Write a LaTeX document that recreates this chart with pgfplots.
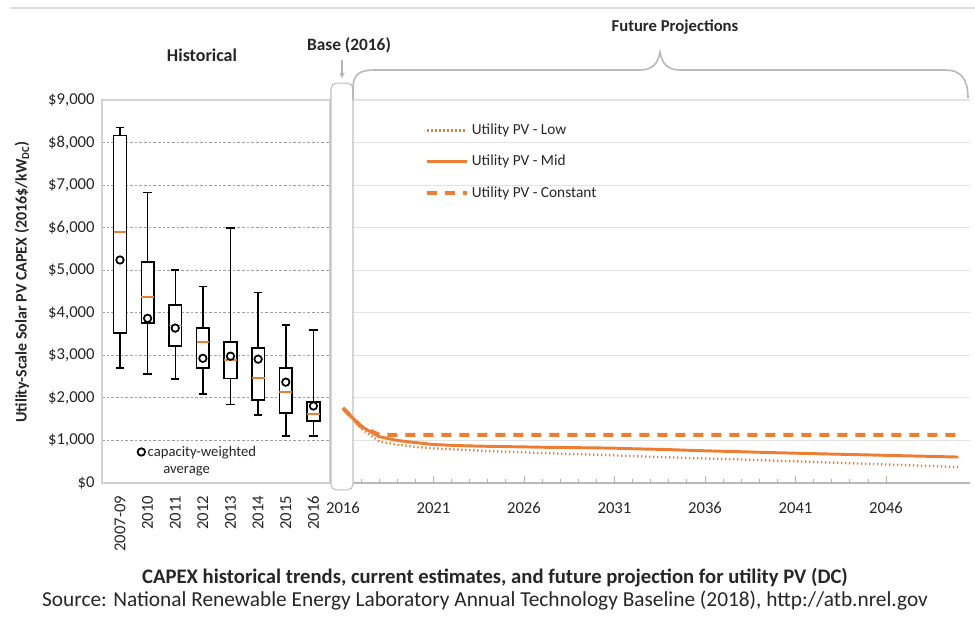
\documentclass[border=0pt]{standalone}
\usepackage{fontspec}
\setmainfont{Carlito}
\usepackage{pgfplots}
\pgfplotsset{compat=1.18}
\usepgfplotslibrary{statistics}
\definecolor{pvorange}{HTML}{ED7D31}
\definecolor{txt}{HTML}{262626}

\pgfplotstableread{
year low mid const
2016 1760 1760 1760
2017 1280 1330 1330
2018 980 1090 1130
2019 900 1000 1130
2020 850 950 1130
2021 815 905 1130
2022 790 885 1130
2023 770 872 1130
2024 750 862 1130
2025 735 855 1130
2026 720 848 1130
2027 705 840 1130
2028 690 835 1130
2029 680 830 1130
2030 665 825 1130
2031 650 818 1130
2032 632 805 1130
2033 616 795 1130
2034 602 785 1130
2035 590 770 1130
2036 577 757 1130
2037 565 745 1130
2038 552 735 1130
2039 538 722 1130
2040 524 711 1130
2041 510 700 1130
2042 495 690 1130
2043 480 680 1130
2044 465 670 1130
2045 450 660 1130
2046 435 650 1130
2047 420 640 1130
2048 405 630 1130
2049 390 620 1130
2050 375 610 1130
}\projdata

\begin{document}
\begin{tikzpicture}
\useasboundingbox (0,0) rectangle (731.25pt,463.5pt);

% ---------------- Historical axis ----------------
\begin{axis}[
  at={(76.5pt,101.25pt)}, anchor=south west,
  scale only axis, width=171pt, height=287.25pt,
  xmin=-0.65, xmax=7.6, ymin=0, ymax=9000,
  axis line style={gray!35, line width=0.8pt},
  xtick={0,...,7},
  xticklabels={2007-09,2010,2011,2012,2013,2014,2015,2016},
  xticklabel style={rotate=90, anchor=east, xshift=-6pt, font=\fontsize{12.5}{14}\selectfont, text=txt},
  xtick style={draw=none},
  ytick={0,1000,...,9000},
  yticklabels={\$0,\$1{,}000,\$2{,}000,\$3{,}000,\$4{,}000,\$5{,}000,\$6{,}000,\$7{,}000,\$8{,}000,\$9{,}000},
  yticklabel style={font=\fontsize{12.5}{14}\selectfont, text=txt, xshift=-2pt},
  ytick style={draw=none},
  ymajorgrids, major grid style={gray!75, dash pattern=on 2pt off 1.5pt, line width=0.6pt},
  boxplot/draw direction=y,
  boxplot/box extend=0.46,
  boxplot/whisker extend=0.3,
  boxplot/every median/.style={pvorange, line width=1.4pt},
  legend style={draw=none, fill=none, at={(0.155,0.081)}, anchor=west,
    font=\fontsize{11}{13}\selectfont, text=txt, inner sep=0pt},
  legend cell align=left,
]
\addplot[black, line width=1.1pt, fill=white, forget plot, boxplot prepared={draw position=0, lower whisker=2700, lower quartile=3520, median=5890, upper quartile=8170, upper whisker=8360}] coordinates {};
\addplot[black, line width=1.1pt, fill=white, forget plot, boxplot prepared={draw position=1, lower whisker=2560, lower quartile=3760, median=4370, upper quartile=5190, upper whisker=6830}] coordinates {};
\addplot[black, line width=1.1pt, fill=white, forget plot, boxplot prepared={draw position=2, lower whisker=2440, lower quartile=3220, median=3700, upper quartile=4180, upper whisker=5000}] coordinates {};
\addplot[black, line width=1.1pt, fill=white, forget plot, boxplot prepared={draw position=3, lower whisker=2090, lower quartile=2700, median=3310, upper quartile=3640, upper whisker=4620}] coordinates {};
\addplot[black, line width=1.1pt, fill=white, forget plot, boxplot prepared={draw position=4, lower whisker=1850, lower quartile=2460, median=2890, upper quartile=3310, upper whisker=5990}] coordinates {};
\addplot[black, line width=1.1pt, fill=white, forget plot, boxplot prepared={draw position=5, lower whisker=1600, lower quartile=1950, median=2460, upper quartile=3170, upper whisker=4480}] coordinates {};
\addplot[black, line width=1.1pt, fill=white, forget plot, boxplot prepared={draw position=6, lower whisker=1100, lower quartile=1640, median=2140, upper quartile=2700, upper whisker=3710}] coordinates {};
\addplot[black, line width=1.1pt, fill=white, forget plot, boxplot prepared={draw position=7, lower whisker=1100, lower quartile=1460, median=1620, upper quartile=1900, upper whisker=3590}] coordinates {};
\addplot[only marks, mark=*, mark size=2.8pt, mark options={fill=white, draw=black, line width=1.3pt}]
  coordinates {(0,5240) (1,3870) (2,3640) (3,2930) (4,2980) (5,2910) (6,2370) (7,1810)};
\addlegendentry{capacity-weighted}
\node[anchor=west, font=\fontsize{11}{13}\selectfont, text=txt, inner sep=0pt] at (rel axis cs:0.268,0.031) {average};
\end{axis}

% ---------------- Projection axis ----------------
\begin{axis}[
  at={(248.25pt,101.25pt)}, anchor=south west,
  scale only axis, width=479.25pt, height=287.25pt,
  xmin=2015.34, xmax=2050.64, ymin=0, ymax=9000, clip=false,
  axis x line*=bottom, axis y line*=left,
  x axis line style={-, gray!55, line width=0.8pt},
  y axis line style={draw=none},
  xtick={2016,2021,...,2046}, minor x tick num=4, tick align=inside,
  major tick length=5pt, minor tick length=3pt,
  xtick style={gray!60, line width=0.6pt},
  /pgf/number format/assume math mode=true,
  xticklabel style={font=\fontsize{12.5}{14}\selectfont, text=txt, yshift=-11pt, /pgf/number format/1000 sep={}},
  ytick={1000,2000,...,9000}, yticklabels={}, ytick style={draw=none},
  ymajorgrids, major grid style={gray!22, line width=0.8pt},
  legend style={draw=none, fill=none, at={(0.147,0.945)}, anchor=north west,
    font=\fontsize{11.5}{13}\selectfont, text=txt, inner sep=0pt, row sep=10pt},
  legend cell align=left,
  legend image code/.code={\draw[#1] (0pt,0pt) -- (30pt,0pt);},
]
\draw[gray!50, line width=0.8pt, fill=white, rounded corners=4pt] (rel axis cs:0,1.044) rectangle (rel axis cs:0.0344,-0.018);
\addplot[pvorange, line width=1.8pt, dash pattern=on 1pt off 2pt] table[x=year, y=low] {\projdata};
\addlegendentry{Utility PV - Low}
\addplot[pvorange, line width=2.2pt] table[x=year, y=mid] {\projdata};
\addlegendentry{Utility PV - Mid}
\addplot[pvorange, line width=3pt, dash pattern=on 7.5pt off 6pt] table[x=year, y=const] {\projdata};
\addlegendentry{Utility PV - Constant}
\end{axis}

% ---------------- Annotations (pixel coordinates, y down) ----------------
\begin{scope}[x=0.75pt, y=-0.75pt, shift={(0pt,463.5pt)}]
\draw[gray!25, line width=1pt] (10,8) -- (975,8);
\node[font=\bfseries\fontsize{13.5}{15}\selectfont, text=txt] at (202,55) {Historical};
\node[font=\bfseries\fontsize{13}{15}\selectfont, text=txt] at (349,45) {Base (2016)};
\draw[gray!60, line width=0.8pt, -stealth] (342,60) -- (342,78);
\node[font=\bfseries\fontsize{12.5}{15}\selectfont, text=txt] at (675,27) {Future Projections};
\draw[gray!55, line width=1.2pt] (353,100) -- (353,88) .. controls (353,74) and (360,70) .. (375,70)
  -- (640,70) .. controls (652,70) and (658,64) .. (660,52)
  .. controls (662,64) and (668,70) .. (680,70) -- (945,70)
  .. controls (960,70) and (968,78) .. (968,98);
\node[font=\bfseries\fontsize{12}{14}\selectfont, text=txt, rotate=90] at (22,282)
  {Utility-Scale Solar PV CAPEX (2016\$/kW\textsubscript{DC})};
\node[font=\bfseries\fontsize{15.5}{17}\selectfont, text=txt] at (495,578)
  {CAPEX historical trends, current estimates, and future projection for utility PV (DC)};
\node[font=\fontsize{16}{18}\selectfont, text=txt] at (485,601)
  {Source: National Renewable Energy Laboratory Annual Technology Baseline (2018), http://atb.nrel.gov};
\end{scope}
\end{tikzpicture}
\end{document}
